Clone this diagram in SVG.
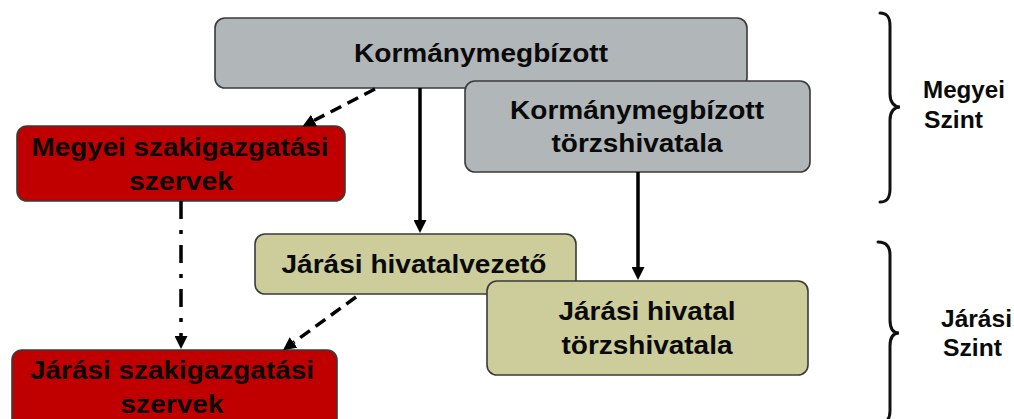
<svg xmlns="http://www.w3.org/2000/svg" width="1014" height="419" viewBox="0 0 1014 419">
  <style>
    .box { stroke: #3a3a3a; stroke-width: 1.6; }
    .gray { fill: #B1B6B9; }
    .red { fill: #C00000; }
    .olive { fill: #CCCD9B; }
    .t { font-family: "Liberation Sans", Arial, sans-serif; font-weight: bold; font-size: 25.6px; fill: #0a0a0a; text-anchor: middle; }
    .lbl { font-family: "Liberation Sans", Arial, sans-serif; font-weight: bold; font-size: 23px; fill: #0a0a0a; }
    .conn { stroke: #000; stroke-width: 3.5; fill: none; }
    .dash { stroke-dasharray: 12 7; }
    .dashdot { stroke-dasharray: 18 11 4 11; }
    .brace { stroke: #111; stroke-width: 3; fill: none; stroke-linecap: round; }
  </style>
  <defs>
    <marker id="arr" markerUnits="userSpaceOnUse" markerWidth="13" markerHeight="13" refX="0" refY="6.5" orient="auto" viewBox="0 0 13 13">
      <path d="M0,0 L13,6.5 L0,13 Z" fill="#000"/>
    </marker>
  </defs>
  <rect width="1014" height="419" fill="#fff"/>

  <g id="node-kormanymegbizott">
    <rect class="box gray" x="215" y="18" width="532" height="70" rx="10"/>
    <text class="t" x="481" y="62" textLength="254" lengthAdjust="spacingAndGlyphs">Kormánymegbízott</text>
  </g>
  <g id="node-km-torzshivatala">
    <rect class="box gray" x="465" y="81" width="345" height="91" rx="10"/>
    <text class="t" x="637" y="119" textLength="254" lengthAdjust="spacingAndGlyphs">Kormánymegbízott</text>
    <text class="t" x="637" y="152" textLength="171" lengthAdjust="spacingAndGlyphs">törzshivatala</text>
  </g>
  <g id="node-megyei-szakig">
    <rect class="box red" x="17" y="126" width="328" height="75" rx="10"/>
    <text class="t" x="180" y="156" textLength="297" lengthAdjust="spacingAndGlyphs">Megyei szakigazgatási</text>
    <text class="t" x="181" y="190" textLength="104" lengthAdjust="spacingAndGlyphs">szervek</text>
  </g>
  <g id="node-jarasi-hivatalvezeto">
    <rect class="box olive" x="255" y="234" width="321" height="60" rx="10"/>
    <text class="t" x="414" y="273" textLength="265" lengthAdjust="spacingAndGlyphs">Járási hivatalvezető</text>
  </g>
  <g id="node-jarasi-torzshivatala">
    <rect class="box olive" x="487" y="281" width="321" height="94" rx="10"/>
    <text class="t" x="647" y="320" textLength="177" lengthAdjust="spacingAndGlyphs">Járási hivatal</text>
    <text class="t" x="647" y="354" textLength="171" lengthAdjust="spacingAndGlyphs">törzshivatala</text>
  </g>
  <g id="node-jarasi-szakig">
    <rect class="box red" x="12" y="350" width="325" height="90" rx="10"/>
    <text class="t" x="172" y="379" textLength="284" lengthAdjust="spacingAndGlyphs">Járási szakigazgatási</text>
    <text class="t" x="172" y="413" textLength="103" lengthAdjust="spacingAndGlyphs">szervek</text>
  </g>

  <g id="connectors">
    <line class="conn dash" x1="375" y1="89" x2="314" y2="120.5" marker-end="url(#arr)"/>
    <line class="conn" x1="420" y1="88" x2="420" y2="220" marker-end="url(#arr)"/>
    <line class="conn" x1="638" y1="172" x2="638" y2="267" marker-end="url(#arr)"/>
    <line class="conn dashdot" x1="181" y1="201" x2="181" y2="336" marker-end="url(#arr)"/>
    <line class="conn dash" x1="356" y1="297" x2="293.5" y2="342.5" marker-end="url(#arr)"/>
  </g>

  <g id="brace-megyei">
    <path class="brace" d="M880,13 C887,13 890,17 890,26 L890,94 C890,102 894,107 900,107 C894,107 890,112 890,120 L890,189 C890,198 887,202 880,202"/>
    <text class="lbl" x="923" y="98" textLength="82" lengthAdjust="spacingAndGlyphs">Megyei</text>
    <text class="lbl" x="924" y="128" textLength="59" lengthAdjust="spacingAndGlyphs">Szint</text>
  </g>
  <g id="brace-jarasi">
    <path class="brace" d="M878,242 C886,242 890,246 890,255 L890,320 C890,328 893,333 899,333 C893,333 890,338 890,346 L890,411 C890,420 886,424 878,424"/>
    <text class="lbl" x="941" y="327" textLength="71" lengthAdjust="spacingAndGlyphs">Járási</text>
    <text class="lbl" x="943" y="356" textLength="59" lengthAdjust="spacingAndGlyphs">Szint</text>
  </g>
</svg>
